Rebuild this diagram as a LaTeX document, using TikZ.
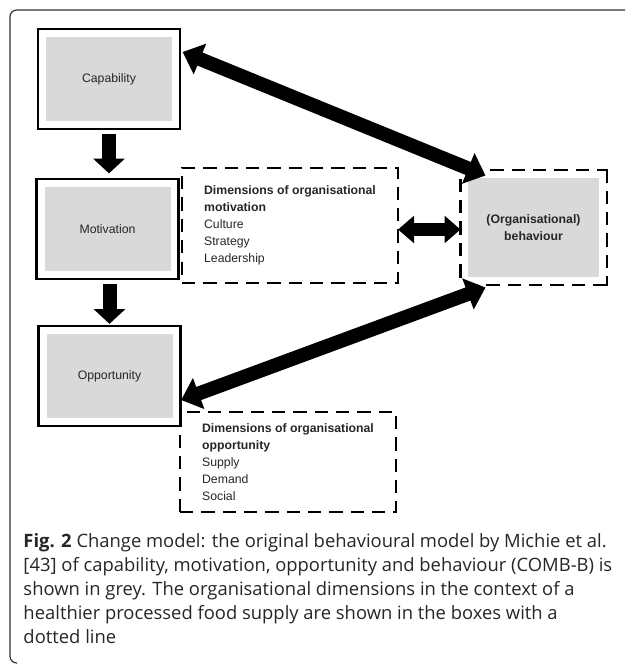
\documentclass[tikz,border=0pt]{standalone}
\usepackage{fontspec}
\setmainfont{Liberation Sans}
\newfontfamily\capfont{Open Sans}
\usetikzlibrary{arrows.meta,calc}
\definecolor{combgrey}{RGB}{217,217,217}
\definecolor{inktext}{RGB}{38,38,38}
\tikzset{every picture/.style={line width=0.75pt}}
\tikzset{
  combbox/.style={fill=combgrey, draw=white, line width=5pt,
    preaction={draw=black, line width=9pt},
    minimum width=99.5pt, minimum height=68pt, align=center,
    text=inktext, font=\fontsize{9.2}{12.75}\selectfont},
  behbox/.style={fill=combgrey, draw=white, line width=5pt,
    preaction={draw=black, line width=9pt, dash pattern=on 10pt off 6pt},
    minimum width=103pt, minimum height=79pt, align=center,
    text=inktext, font=\fontsize{9.2}{12.75}\selectfont\bfseries},
  dimbox/.style={draw=black, line width=1.6pt, dash pattern=on 10pt off 6pt,
    minimum width=162pt, align=left, text=inktext,
    font=\fontsize{9.2}{12.75}\selectfont},
  downarrow/.style={line width=10.5pt, -{Triangle[width=23pt,length=11pt]}},
  bigarrow/.style={line width=10.5pt,
    {Triangle[width=24pt,length=14pt]}-{Triangle[width=24pt,length=14pt]}},
  smallarrow/.style={line width=10pt,
    {Triangle[width=20pt,length=12pt]}-{Triangle[width=20pt,length=12pt]}},
}

\begin{document}
\begin{tikzpicture}[x=0.75pt,y=0.75pt,yscale=-1,xscale=1]
\path[use as bounding box] (0,0) rectangle (625,666);

%Shape: Frame
\draw [color=black!80, line width=0.9pt, rounded corners=5pt] (625,10) -- (10,10) -- (10,663) -- (17,663) ;

%Shape: Rectangle
\node [combbox] (cap) at (109,79) {Capability};
%Shape: Rectangle
\node [combbox] (mot) at (107.5,229) {Motivation};
%Shape: Rectangle
\node [combbox] (opp) at (109.5,376) {Opportunity};
%Shape: Rectangle
\node [behbox] (beh) at (533.5,227.5) {(Organisational)\\behaviour};

%Shape: Rectangle
\node [dimbox, minimum height=86pt] (motdim) at (290,225.5) {\textbf{Dimensions of organisational}\\\textbf{motivation}\\Culture\\Strategy\\Leadership};
%Shape: Rectangle
\node [dimbox, minimum height=75pt] (oppdim) at (288,462) {\textbf{Dimensions of organisational}\\\textbf{opportunity}\\Supply\\Demand\\Social};

%Straight Lines
\draw [downarrow, shorten <=4.8pt, shorten >=5.2pt] (cap.south) -- (cap.south |- mot.north) ;
%Straight Lines
\draw [downarrow, shorten <=4.5pt, shorten >=2.6pt] (opp.north |- mot.south) -- (opp.north) ;
%Straight Lines
\draw [bigarrow] ($(cap.east)+(4,-27)$) -- ($(beh.north west)+(24,4)$) ;
%Straight Lines
\draw [bigarrow] ($(opp.east)+(2,24)$) -- ($(beh.south west)+(24,4)$) ;
%Straight Lines
\draw [smallarrow] ($(motdim.east)+(-1,4)$) -- ($(beh.west)+(-1,2)$) ;

% Text Node
\node [anchor=base west, align=left, inner sep=0pt, text=inktext, font=\capfont\fontsize{13.8}{18}\selectfont] (caption) at (23,643)
  {\textbf{Fig. 2} Change model: the original behavioural model by Michie et al.\\
{}[43] of capability, motivation, opportunity and behaviour (COMB-B) is\\
shown in grey. The organisational dimensions in the context of a\\
healthier processed food supply are shown in the boxes with a\\
dotted line};

\end{tikzpicture}
\end{document}
